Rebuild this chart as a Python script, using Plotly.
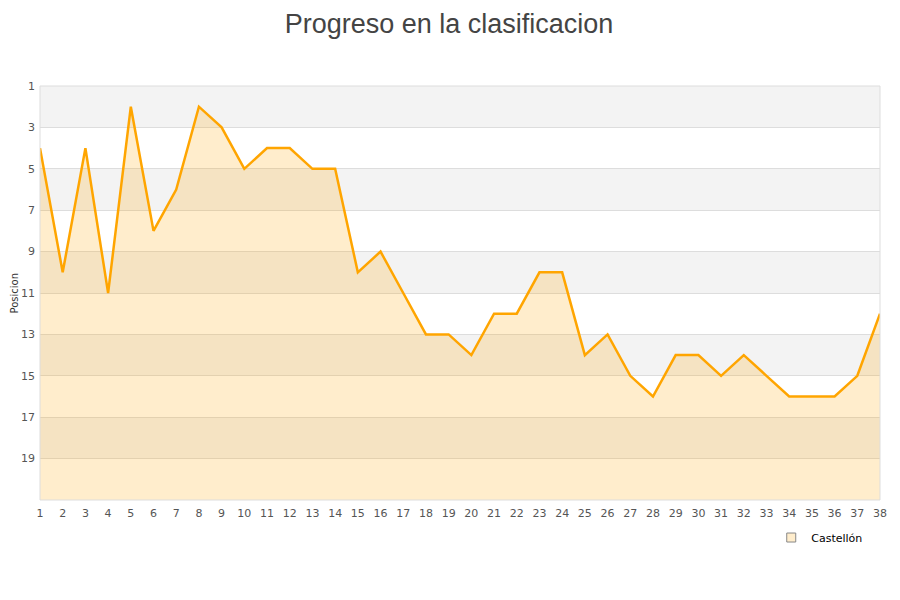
import plotly.graph_objects as go

jornadas = list(range(1, 39))
posiciones = [4, 10, 4, 11, 2, 8, 6, 2, 3, 5, 4, 4, 5, 5, 10, 9, 11, 13, 13, 14,
              12, 12, 10, 10, 14, 13, 15, 16, 14, 14, 15, 14, 15, 16, 16, 16, 15, 12]
equipo = "Castellón"
y_ticks = [1, 3, 5, 7, 9, 11, 13, 15, 17, 19]
y_min, y_max = 1, 21

fig = go.Figure()
fig.add_trace(go.Scatter(x=jornadas, y=[y_max] * len(jornadas), mode="lines",
                         line=dict(width=0), showlegend=False, hoverinfo="skip"))
fig.add_trace(go.Scatter(x=jornadas, y=posiciones, mode="lines", name=equipo,
                         line=dict(color="#ffa500", width=2.5), showlegend=False,
                         fill="tonexty", fillcolor="rgba(255,165,0,0.2)"))
fig.add_trace(go.Scatter(x=[None], y=[None], mode="markers", name=equipo,
                         marker=dict(symbol="square", size=9, color="#ffedcc",
                                     line=dict(color="#888888", width=1))))

shapes = []
for i, lo in enumerate(range(y_min, y_max, 2)):
    if i % 2 == 0:
        shapes.append(dict(type="rect", xref="paper", yref="y", x0=0, x1=1,
                           y0=lo, y1=lo + 2, fillcolor="#f3f3f3", line=dict(width=0),
                           layer="below"))
shapes.append(dict(type="rect", xref="paper", yref="paper", x0=0, x1=1, y0=0, y1=1,
                   line=dict(color="#dddddd", width=1), fillcolor="rgba(0,0,0,0)"))

fig.update_layout(
    width=900, height=600,
    margin=dict(l=32, r=28, t=78, b=108),
    paper_bgcolor="white", plot_bgcolor="white",
    title=dict(text="Progreso en la clasificacion", x=0.49, xanchor="center",
               y=0.99, yanchor="top", pad=dict(t=0),
               font=dict(family="Liberation Sans, Arial, sans-serif", size=27, color="#444444")),
    font=dict(family="DejaVu Sans, sans-serif", size=11, color="#333333"),
    shapes=shapes,
    annotations=[dict(text="Posicion", xref="paper", yref="paper", x=-0.0381, y=0.5,
                      xanchor="left", yanchor="middle", textangle=-90, showarrow=False,
                      borderpad=0, font=dict(size=10, color="#333333"))],
    showlegend=True,
    legend=dict(x=0.986, y=-0.0556, xanchor="right", yanchor="top",
                font=dict(size=11, color="#000000"), bgcolor="rgba(0,0,0,0)"),
    xaxis=dict(range=[1, 38], tickmode="array", tickvals=jornadas, automargin=False,
               showgrid=False, zeroline=False, showline=False, ticks="",
               ticklabelstandoff=5,
               tickfont=dict(size=11, color="#555555")),
    yaxis=dict(range=[y_max, y_min], tickmode="array", tickvals=y_ticks, automargin=False,
               showgrid=True, gridcolor="#dddddd", gridwidth=1, zeroline=False,
               showline=False, ticks="", ticklabelstandoff=4,
               tickfont=dict(size=11, color="#555555")),
)

fig.write_html("out.html")
